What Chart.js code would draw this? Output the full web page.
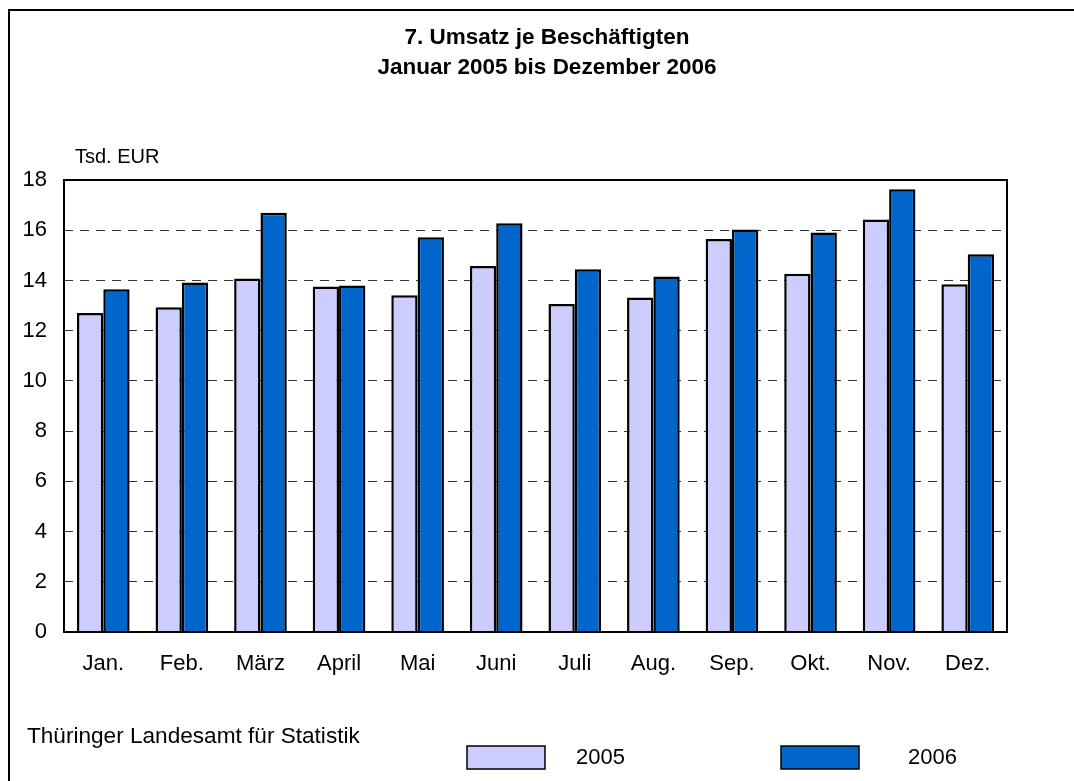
<!DOCTYPE html>
<html>
<head>
<meta charset="utf-8">
<script src="https://cdn.jsdelivr.net/npm/chart.js@4/dist/chart.umd.min.js"></script>
<style>
  html, body { margin: 0; padding: 0; background: #fff; }
  #wrap { width: 1074px; height: 781px; position: relative; }
</style>
</head>
<body>
<div id="wrap"><canvas id="chart"></canvas></div>
<script>
const months = ['Jan.', 'Feb.', 'März', 'April', 'Mai', 'Juni', 'Juli', 'Aug.', 'Sep.', 'Okt.', 'Nov.', 'Dez.'];
const values2005 = [12.70, 12.93, 14.08, 13.76, 13.41, 14.58, 13.06, 13.32, 15.65, 14.27, 16.43, 13.85];
const values2006 = [13.65, 13.92, 16.70, 13.80, 15.72, 16.28, 14.45, 14.16, 16.03, 15.91, 17.63, 15.04];
const yTicks = [0, 2, 4, 6, 8, 10, 12, 14, 16, 18];

const FONT = '"Liberation Sans", Arial, sans-serif';
const COLOR_2005 = '#CCCCFF';
const COLOR_2006 = '#0066CC';

// frame, title, unit label, source and legend are painted around the plot
const decorations = {
  id: 'decorations',
  afterDraw(chart) {
    const { ctx, chartArea: a } = chart;
    ctx.save();

    // plot border
    ctx.strokeStyle = '#000';
    ctx.lineWidth = 2;
    ctx.strokeRect(a.left, a.top, a.right - a.left, a.bottom - a.top);

    // outer frame (right and bottom run off the page)
    ctx.beginPath();
    ctx.moveTo(9, 790);
    ctx.lineTo(9, 10);
    ctx.lineTo(1080, 10);
    ctx.stroke();

    ctx.fillStyle = '#000';
    ctx.textBaseline = 'middle';

    ctx.textAlign = 'center';
    ctx.font = 'bold 22.5px ' + FONT;
    ctx.fillText('7. Umsatz je Beschäftigten', 547, 38);
    ctx.fillText('Januar 2005 bis Dezember 2006', 547, 68);

    ctx.textAlign = 'left';
    ctx.font = '20px ' + FONT;
    ctx.fillText('Tsd. EUR', 75, 157);

    ctx.font = '22.6px ' + FONT;
    ctx.fillText('Thüringer Landesamt für Statistik', 27, 737);

    const items = [
      { x: 467, text: 576, color: COLOR_2005, label: '2005' },
      { x: 781, text: 908, color: COLOR_2006, label: '2006' }
    ];
    ctx.font = '22px ' + FONT;
    ctx.lineWidth = 1.5;
    items.forEach(it => {
      ctx.fillStyle = it.color;
      ctx.fillRect(it.x, 746, 78, 23);
      ctx.strokeStyle = '#000';
      ctx.strokeRect(it.x, 746, 78, 23);
      ctx.fillStyle = '#000';
      ctx.fillText(it.label, it.text, 758);
    });

    ctx.restore();
  }
};

new Chart(document.getElementById('chart'), {
  type: 'bar',
  data: {
    labels: months,
    datasets: [
      {
        label: '2005',
        data: values2005,
        backgroundColor: COLOR_2005,
        borderColor: '#000',
        borderWidth: 2.5,
        categoryPercentage: 0.67,
        barPercentage: 1
      },
      {
        label: '2006',
        data: values2006,
        backgroundColor: COLOR_2006,
        borderColor: '#000',
        borderWidth: 2.5,
        categoryPercentage: 0.67,
        barPercentage: 1
      }
    ]
  },
  options: {
    responsive: true,
    maintainAspectRatio: false,
    animation: false,
    layout: { padding: { left: 0, right: 67, top: 180, bottom: 0 } },
    plugins: {
      legend: { display: false },
      title: { display: false },
      tooltip: { enabled: false }
    },
    scales: {
      x: {
        grid: { display: false, drawTicks: false },
        border: { display: false },
        ticks: { color: '#000', font: { family: FONT, size: 22 }, padding: 19 },
        afterFit(scale) { scale.height = 149; }
      },
      y: {
        min: 0,
        max: 18,
        afterBuildTicks(scale) { scale.ticks = yTicks.map(v => ({ value: v })); },
        grid: { color: '#333', lineWidth: 1, drawTicks: false },
        border: { display: false, dash: [9, 7] },
        ticks: { color: '#000', font: { family: FONT, size: 22 }, padding: 17 },
        afterFit(scale) { scale.width = 64; }
      }
    }
  },
  plugins: [decorations]
});
</script>
</body>
</html>
